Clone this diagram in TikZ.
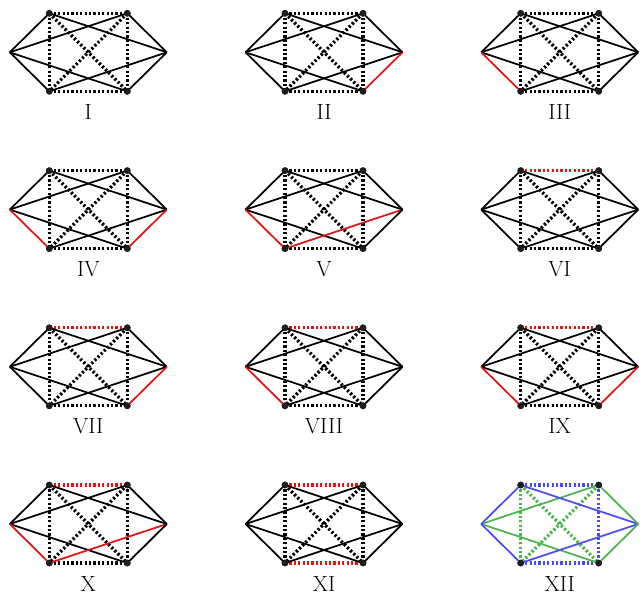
\documentclass[tikz,border=0pt]{standalone}
\usepackage{tikz}
\definecolor{myred}{RGB}{225,20,20}
\definecolor{myblue}{RGB}{75,75,245}
\definecolor{mygreen}{RGB}{75,180,75}
\definecolor{dotcol}{RGB}{30,30,30}
\tikzset{
  soledge/.style={line width=1.3pt},
  dotedge/.style={line width=2.5pt, dash pattern=on 1.65pt off 1.65pt},
  vdot/.style={circle, fill=dotcol, inner sep=0pt, minimum size=5pt},
  glabel/.style={font=\fontsize{16.5}{20}\selectfont, inner sep=0pt, anchor=base}
}
% colours of the 14 edges
\newcommand\setcols[1]{%
  \def\cA{black}\def\cB{black}\def\cC{black}\def\cD{black}%
  \def\cE{black}\def\cF{black}\def\cG{black}\def\cH{black}%
  \def\cI{black}\def\cJ{black}\def\cK{black}\def\cL{black}%
  \def\cM{black}\def\cN{black}#1}
\newcommand\hexgraph[4]{%
  \coordinate (#1L) at (#2-78.5,#3);
  \coordinate (#1R) at (#2+78.5,#3);
  \node[vdot] (#1TL) at (#2-39,#3-39) {};
  \node[vdot] (#1TR) at (#2+39,#3-39) {};
  \node[vdot] (#1BL) at (#2-39,#3+39) {};
  \node[vdot] (#1BR) at (#2+39,#3+39) {};
  \draw[dotedge,\cK] (#1TL.center) -- (#1BL.center);
  \draw[dotedge,\cL] (#1TR.center) -- (#1BR.center);
  \draw[dotedge,\cM] (#1TL.center) -- (#1BR.center);
  \draw[dotedge,\cN] (#1TR.center) -- (#1BL.center);
  \draw[dotedge,\cI] (#1TL.center) -- (#1TR.center);
  \draw[dotedge,\cJ] (#1BL.center) -- (#1BR.center);
  \draw[soledge,\cE] (#1L) -- (#1TR.center);
  \draw[soledge,\cF] (#1L) -- (#1BR.center);
  \draw[soledge,\cG] (#1R) -- (#1TL.center);
  \draw[soledge,\cH] (#1R) -- (#1BL.center);
  \draw[soledge,\cA] (#1L) -- (#1TL.center);
  \draw[soledge,\cB] (#1L) -- (#1BL.center);
  \draw[soledge,\cC] (#1R) -- (#1TR.center);
  \draw[soledge,\cD] (#1R) -- (#1BR.center);
  \node[vdot] at (#1TL) {};
  \node[vdot] at (#1TR) {};
  \node[vdot] at (#1BL) {};
  \node[vdot] at (#1BR) {};
  \node[glabel] (#1lab) at (#2,#3+67) {#4};
}
\begin{document}
\begin{tikzpicture}[x=0.75pt,y=-0.75pt]
\useasboundingbox (0,0) rectangle (642,594);
\setcols{}\hexgraph{a}{88.3}{52.3}{I}
\setcols{\def\cD{myred}}\hexgraph{b}{324}{52.3}{II}
\setcols{\def\cB{myred}}\hexgraph{c}{559.7}{52.3}{III}
\setcols{\def\cB{myred}\def\cD{myred}}\hexgraph{d}{88.3}{209.6}{IV}
\setcols{\def\cB{myred}\def\cH{myred}}\hexgraph{e}{324}{209.6}{V}
\setcols{\def\cI{myred}}\hexgraph{f}{559.7}{209.6}{VI}
\setcols{\def\cI{myred}\def\cD{myred}}\hexgraph{g}{88.3}{366.8}{VII}
\setcols{\def\cI{myred}\def\cB{myred}}\hexgraph{h}{324}{366.8}{VIII}
\setcols{\def\cI{myred}\def\cB{myred}\def\cD{myred}}\hexgraph{i}{559.7}{366.8}{IX}
\setcols{\def\cI{myred}\def\cB{myred}\def\cH{myred}}\hexgraph{j}{88.3}{524}{X}
\setcols{\def\cI{myred}\def\cJ{myred}}\hexgraph{k}{324}{524}{XI}
\setcols{\def\cA{myblue}\def\cB{myblue}\def\cG{myblue}\def\cH{myblue}%
  \def\cI{myblue}\def\cJ{myblue}\def\cL{myblue}%
  \def\cC{mygreen}\def\cD{mygreen}\def\cE{mygreen}\def\cF{mygreen}%
  \def\cK{mygreen}\def\cM{mygreen}\def\cN{mygreen}}\hexgraph{l}{559.7}{524}{XII}
\end{tikzpicture}
\end{document}
